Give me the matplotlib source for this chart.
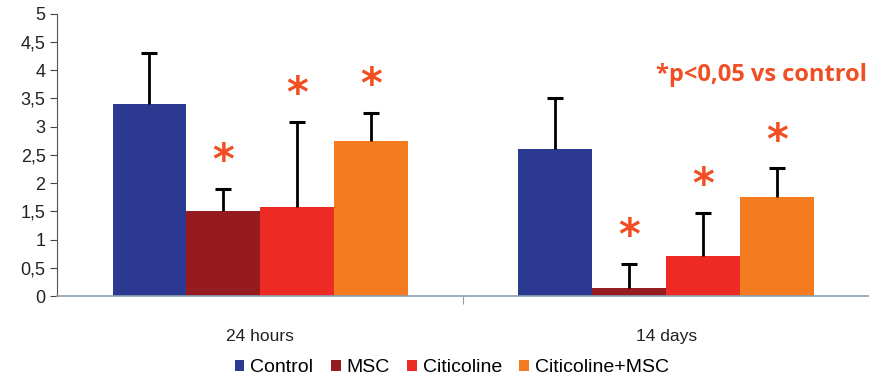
import numpy as np
import matplotlib
matplotlib.use('Agg')
from matplotlib import pyplot as plt
from matplotlib.ticker import FuncFormatter

plt.rcParams['font.family'] = ['Liberation Sans', 'DejaVu Sans']

groups = ['24 hours', '14 days']
series = ['Control', 'MSC', 'Citicoline', 'Citicoline+MSC']
colors = ['#2B3990', '#951B1E', '#EE2A24', '#F47B20']
means = {
    'Control': [3.4, 2.6],
    'MSC': [1.5, 0.15],
    'Citicoline': [1.57, 0.71],
    'Citicoline+MSC': [2.75, 1.75],
}
errors = {
    'Control': [0.9, 0.9],
    'MSC': [0.4, 0.42],
    'Citicoline': [1.52, 0.76],
    'Citicoline+MSC': [0.5, 0.51],
}
# significance vs control
signif = {
    'Control': [False, False],
    'MSC': [True, True],
    'Citicoline': [True, True],
    'Citicoline+MSC': [True, True],
}

fig = plt.figure(figsize=(8.69, 3.84), dpi=100)
ax = fig.add_axes([0.066, 0.229, 0.934, 0.735])

x = np.arange(len(groups))
width = 0.182
for i, name in enumerate(series):
    pos = x + (i - 1.5) * width
    m = np.array(means[name])
    e = np.array(errors[name])
    ax.bar(pos, m, width, color=colors[i], label=name)
    # only upper error bar
    ax.vlines(pos, m, m + e, color='black', lw=2)
    ax.plot(pos, m + e, ls='none', marker='_', ms=11, mew=2.2, color='black')
    for j in range(len(groups)):
        if signif[name][j]:
            ax.text(pos[j], m[j] + e[j] + 0.1, '*',
                    color='#F04E23', fontsize=30, fontweight='bold',
                    ha='center', va='bottom', family='DejaVu Sans')

ax.text(0.997, 0.785, '*p<0,05 vs control', transform=ax.transAxes,
        color='#F04E23', fontsize=17, fontweight='bold', ha='right',
        va='center', family='Open Sans')

ax.set_xlim(-0.5, 1.5)
ax.set_ylim(0, 5)
ax.set_yticks(np.arange(0, 5.01, 0.5))
ax.yaxis.set_major_formatter(FuncFormatter(lambda v, p: ('%g' % v).replace('.', ',')))
ax.tick_params(axis='y', labelsize=13, direction='out', length=5, colors='#444444')
ax.tick_params(axis='y', labelcolor='#222222')
ax.set_xticks([0.5])
ax.set_xticklabels([])
ax.set_xticks(x, minor=True)
ax.set_xticklabels(groups, minor=True)
ax.tick_params(axis='x', which='major', direction='out', length=6, color='#999999')
ax.tick_params(axis='x', which='minor', length=0, pad=24, labelsize=12.5, labelcolor='#222222')

for s in ['top', 'right']:
    ax.spines[s].set_visible(False)
ax.spines['left'].set_color('#555555')
ax.spines['bottom'].set_color('#8aa0b0')
ax.spines['bottom'].set_linewidth(1.2)

fig.legend(loc='lower center', bbox_to_anchor=(0.52, -0.025), ncol=4, frameon=False,
           fontsize=14, handlelength=0.5, handleheight=0.5, handletextpad=0.3,
           columnspacing=0.9)

fig.savefig('out.png', dpi=100)
